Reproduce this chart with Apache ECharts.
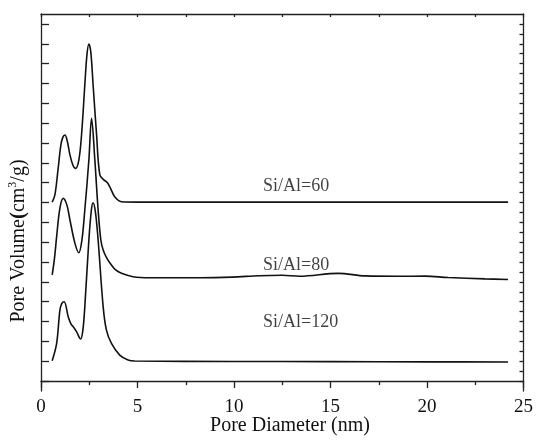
<!DOCTYPE html>
<html>
<head>
<meta charset="utf-8">
<script src="https://cdn.jsdelivr.net/npm/echarts@6/dist/echarts.min.js"></script>
<style>html,body{margin:0;padding:0;background:#fff;}#c{width:536px;height:443px;}</style>
</head>
<body>
<div id="c"></div>
<script>
// Pore size distribution curves [diameter nm, offset pore volume (arb.)]
const si60 = [[0.58,9.02],[0.72,9.38],[0.88,10.64],[1.03,11.90],[1.13,12.28],[1.24,12.40],[1.36,12.10],[1.50,11.40],[1.65,10.89],[1.79,10.72],[1.96,11.14],[2.10,12.40],[2.27,14.92],[2.38,16.44],[2.48,16.99],[2.58,16.59],[2.70,14.92],[2.88,12.40],[3.05,10.39],[3.27,10.13],[3.41,10.03],[3.56,9.80],[3.82,9.29],[4.17,9.04],[5,9.02],[10,9.02],[15,9.02],[20,9.02],[24.2,9.02]];
const si80 = [[0.58,5.35],[0.70,6.20],[0.81,7.28],[0.98,8.72],[1.15,9.21],[1.34,8.88],[1.50,8.12],[1.76,6.94],[1.96,6.47],[2.12,7.11],[2.27,8.62],[2.48,11.14],[2.62,13.24],[2.79,11.14],[2.96,8.62],[3.10,7.11],[3.22,6.61],[3.41,6.20],[3.65,5.85],[3.87,5.60],[4.17,5.43],[4.77,5.26],[5.63,5.21],[8.21,5.21],[9.9,5.24],[11.3,5.31],[12.5,5.33],[13.4,5.28],[15.4,5.43],[16.8,5.30],[18.5,5.28],[19.9,5.29],[21.1,5.22],[23.0,5.15],[24.2,5.12]];
const si120 = [[0.58,1.03],[0.81,1.90],[0.98,3.58],[1.08,3.92],[1.20,4.00],[1.41,3.24],[1.55,2.88],[1.67,2.74],[1.84,2.49],[2.05,2.12],[2.17,2.57],[2.27,3.75],[2.48,7.11],[2.61,8.62],[2.70,8.99],[2.82,8.52],[2.96,7.11],[3.22,3.75],[3.39,2.57],[3.65,1.90],[4.08,1.31],[4.51,1.06],[4.86,1.01],[10,0.99],[15,0.98],[20,0.97],[24.2,0.96]];
const seriesNames = ['Si/Al=60','Si/Al=80','Si/Al=120'];
const curveLabels = [[13.22,9.80,'Si/Al=60'],[13.22,5.85,'Si/Al=80'],[13.45,2.98,'Si/Al=120']];
const xTickLabels = ['0','5','10','15','20','25'];
const yLeftTicks = [0,1,2,3,4,5,6,7,8,9,10,11,12,13,14,15,16,17,18];
const yRightTicks = [0,0.5,1,1.5,2,2.5,3,3.5,4,4.5,5,5.5,6,6.5,7,7.5,8,8.5,9,9.5,10,10.5,11,11.5,12,12.5,13,13.5,14,14.5,15,15.5,16,16.5,17,17.5,18];

const FONT = 'Liberation Serif, Times New Roman, serif';
const AX = {color:'#222', width:1.3};
const chart = echarts.init(document.getElementById('c'));
const lineSeries = [si60, si80, si120].map((d,i)=>({
  name: seriesNames[i], type:'line', data:d, xAxisIndex:0, yAxisIndex:0,
  showSymbol:false, smooth:0.35, lineStyle:{color:'#111', width:1.6}, silent:true
}));
chart.setOption({
  animation:false,
  backgroundColor:'#fff',
  grid:{left:41, right:11, top:14, bottom:52},
  xAxis:[
    {type:'value', position:'bottom', min:0, max:25, interval:5,
     axisLine:{show:true, lineStyle:AX},
     axisTick:{show:true, inside:false, length:7, lineStyle:AX},
     minorTick:{show:true, splitNumber:2, length:4, lineStyle:AX},
     splitLine:{show:false}, minorSplitLine:{show:false},
     axisLabel:{show:true, margin:7, fontFamily:FONT, fontSize:19, color:'#111',
       formatter:(v)=>xTickLabels[Math.round(v/5)]}},
    {type:'value', position:'top', min:0, max:25, interval:2.5,
     axisLine:{show:true, onZero:false, lineStyle:AX},
     axisTick:{show:true, inside:true, length:3, lineStyle:AX},
     splitLine:{show:false}, axisLabel:{show:false}}
  ],
  yAxis:[
    {type:'value', position:'left', min:-0.5, max:18.5,
     axisLine:{show:true, onZero:false, lineStyle:AX},
     axisTick:{show:true, inside:true, length:8, lineStyle:AX, customValues:yLeftTicks},
     splitLine:{show:false}, axisLabel:{show:false}},
    {type:'value', position:'right', min:-0.5, max:18.5,
     axisLine:{show:true, onZero:false, lineStyle:AX},
     axisTick:{show:true, inside:true, length:4, lineStyle:AX, customValues:yRightTicks},
     splitLine:{show:false}, axisLabel:{show:false}}
  ],
  series: lineSeries.concat([{
    type:'scatter', xAxisIndex:0, yAxisIndex:0, symbolSize:0, silent:true,
    data: curveLabels,
    label:{show:true, position:'inside', formatter:(p)=>p.data[2],
      fontFamily:FONT, fontSize:18, color:'#111'}
  }]),
  graphic:[
    {type:'text', x:290, y:426, silent:true,
     style:{text:'Pore Diameter (nm)', font:'20px '+FONT, fill:'#111', align:'center', verticalAlign:'middle'}},
    {type:'text', x:18, y:241, rotation:Math.PI/2, silent:true,
     style:{text:'{a|Pore Volume}{p|(}{a|cm}{s|3}{a|/g)}', align:'center', verticalAlign:'middle', fill:'#111',
       rich:{
         a:{fontFamily:FONT, fontSize:20, fill:'#111', lineHeight:22, verticalAlign:'bottom'},
         p:{fontFamily:FONT, fontSize:21, fontWeight:'bold', fill:'#111', lineHeight:22, verticalAlign:'bottom'},
         s:{fontFamily:FONT, fontSize:12, fill:'#111', lineHeight:22, verticalAlign:'top'}
       }}}
  ]
});
</script>
</body>
</html>
